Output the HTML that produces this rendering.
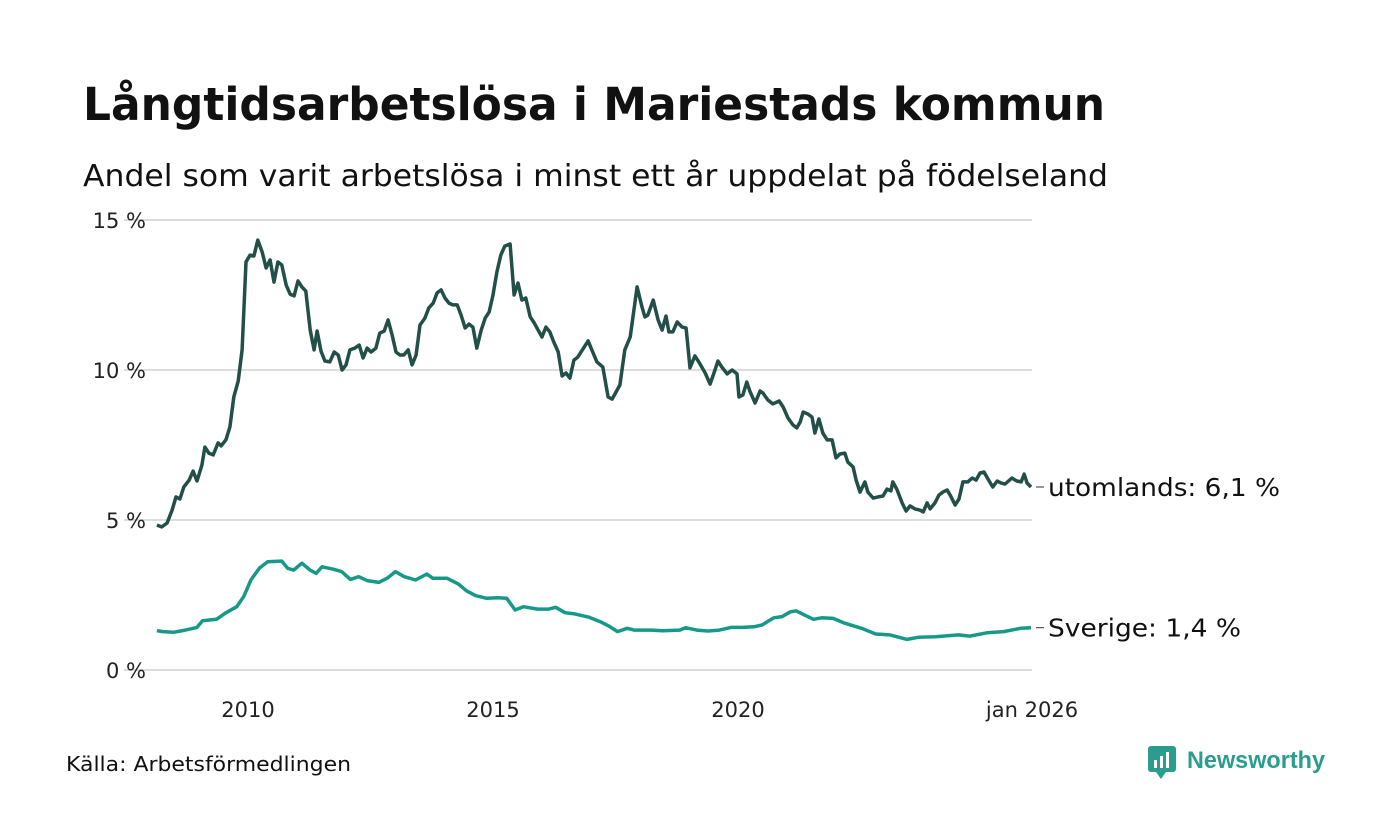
<!DOCTYPE html>
<html><head><meta charset="utf-8"><style>
body{margin:0;background:#fff;font-family:"Liberation Sans",sans-serif;}
#wrap{position:relative;width:1400px;height:840px;overflow:hidden;background:#fff}
</style></head><body>
<div id="wrap">
<svg id="chart" width="1400" height="840" xmlns="http://www.w3.org/2000/svg">
<text x="83" y="120" font-size="45" font-weight="bold" fill="#111" font-family="DejaVu Sans, sans-serif" textLength="1022" lengthAdjust="spacingAndGlyphs">Långtidsarbetslösa i Mariestads kommun</text>
<text x="83" y="186" font-size="30" fill="#111" font-family="DejaVu Sans, sans-serif" textLength="1025" lengthAdjust="spacingAndGlyphs">Andel som varit arbetslösa i minst ett år uppdelat på födelseland</text>
<g id="grid"></g><g id="yticks"></g><g id="xticks"></g><g id="lines"></g><g id="labels"></g>
<text x="66" y="771" font-size="20" fill="#111" font-family="DejaVu Sans, sans-serif" textLength="285" lengthAdjust="spacingAndGlyphs">Källa: Arbetsförmedlingen</text>
<g>
<rect x="1148" y="746" width="28" height="26" rx="3" fill="#2a9d8f"/>
<polygon points="1156,772 1166,772 1161,779" fill="#2a9d8f"/>
<rect x="1154" y="760" width="3" height="8" fill="#fff"/><rect x="1160" y="756" width="3" height="12" fill="#fff"/><rect x="1166" y="752" width="3" height="16" fill="#fff"/>
<text x="1187" y="768" font-size="24" font-weight="bold" fill="#2a9d8f" textLength="138" lengthAdjust="spacingAndGlyphs">Newsworthy</text>
</g>
</svg>
</div>
<script>
const yTickValues=[0,5,10,15];
const yTickLabels=["0 %","5 %","10 %","15 %"];
const xTickValues=[2010,2015,2020,2026];
const xTickLabels=["2010","2015","2020","jan 2026"];
const utomYears=[2008.14,2008.24,2008.35,2008.45,2008.53,2008.61,2008.69,2008.80,2008.88,2008.96,2009.06,2009.12,2009.20,2009.29,2009.39,2009.45,2009.55,2009.63,2009.71,2009.80,2009.88,2009.96,2010.04,2010.12,2010.20,2010.29,2010.37,2010.45,2010.53,2010.61,2010.69,2010.78,2010.86,2010.94,2011.02,2011.10,2011.18,2011.27,2011.35,2011.41,2011.49,2011.57,2011.67,2011.76,2011.84,2011.92,2012.00,2012.08,2012.18,2012.27,2012.35,2012.43,2012.51,2012.61,2012.69,2012.78,2012.86,2012.94,2013.02,2013.10,2013.18,2013.27,2013.35,2013.43,2013.51,2013.61,2013.69,2013.78,2013.86,2013.94,2014.02,2014.10,2014.18,2014.27,2014.35,2014.43,2014.51,2014.59,2014.67,2014.76,2014.84,2014.92,2015.00,2015.08,2015.16,2015.24,2015.35,2015.43,2015.51,2015.59,2015.67,2015.76,2015.84,2015.92,2016.00,2016.08,2016.16,2016.24,2016.33,2016.41,2016.49,2016.57,2016.65,2016.73,2016.94,2017.12,2017.24,2017.35,2017.43,2017.59,2017.69,2017.80,2017.94,2018.04,2018.10,2018.16,2018.27,2018.37,2018.45,2018.53,2018.59,2018.67,2018.76,2018.86,2018.94,2019.02,2019.12,2019.20,2019.33,2019.43,2019.53,2019.59,2019.67,2019.78,2019.88,2019.98,2020.02,2020.10,2020.18,2020.24,2020.35,2020.45,2020.51,2020.61,2020.71,2020.84,2020.92,2021.02,2021.12,2021.20,2021.27,2021.33,2021.43,2021.51,2021.57,2021.65,2021.73,2021.82,2021.92,2022.00,2022.08,2022.18,2022.24,2022.35,2022.41,2022.49,2022.59,2022.65,2022.76,2022.86,2022.96,2023.04,2023.12,2023.16,2023.24,2023.35,2023.43,2023.51,2023.61,2023.71,2023.78,2023.86,2023.92,2024.02,2024.10,2024.18,2024.27,2024.35,2024.43,2024.51,2024.59,2024.69,2024.78,2024.86,2024.94,2025.02,2025.10,2025.20,2025.29,2025.37,2025.45,2025.59,2025.69,2025.78,2025.84,2025.90,2025.98];
const utomValues=[4.83,4.77,4.9,5.33,5.77,5.7,6.1,6.33,6.63,6.3,6.83,7.43,7.23,7.17,7.57,7.47,7.67,8.1,9.1,9.63,10.67,13.6,13.83,13.8,14.33,13.93,13.4,13.67,12.93,13.6,13.5,12.83,12.53,12.47,12.97,12.77,12.63,11.33,10.67,11.3,10.63,10.3,10.27,10.6,10.5,10.0,10.17,10.67,10.73,10.83,10.4,10.73,10.6,10.73,11.23,11.3,11.67,11.17,10.6,10.5,10.5,10.67,10.17,10.5,11.5,11.73,12.07,12.23,12.57,12.67,12.4,12.23,12.17,12.17,11.83,11.4,11.53,11.43,10.73,11.33,11.73,11.93,12.5,13.27,13.83,14.13,14.2,12.5,12.9,12.33,12.4,11.77,11.57,11.33,11.1,11.43,11.27,10.93,10.6,9.8,9.9,9.73,10.33,10.43,10.97,10.27,10.1,9.1,9.03,9.5,10.67,11.1,12.77,12.1,11.77,11.83,12.33,11.67,11.33,11.8,11.27,11.27,11.6,11.43,11.4,10.07,10.47,10.27,9.9,9.53,10.0,10.3,10.1,9.87,10.0,9.87,9.1,9.17,9.6,9.3,8.9,9.3,9.23,9.0,8.87,8.97,8.77,8.4,8.17,8.07,8.27,8.6,8.53,8.43,7.9,8.37,7.9,7.67,7.67,7.07,7.2,7.23,6.93,6.77,6.33,5.93,6.27,5.93,5.73,5.77,5.8,6.03,5.97,6.27,6.03,5.57,5.3,5.47,5.37,5.33,5.27,5.57,5.37,5.57,5.83,5.93,6.0,5.77,5.5,5.7,6.27,6.27,6.4,6.33,6.57,6.6,6.37,6.1,6.3,6.23,6.2,6.4,6.3,6.27,6.53,6.23,6.1];
const sverYears=[2008.14,2008.26,2008.49,2008.72,2008.96,2009.07,2009.36,2009.53,2009.77,2009.91,2010.06,2010.23,2010.40,2010.69,2010.81,2010.93,2011.10,2011.27,2011.39,2011.51,2011.74,2011.91,2012.09,2012.26,2012.43,2012.67,2012.84,2013.01,2013.19,2013.42,2013.65,2013.77,2014.06,2014.29,2014.46,2014.64,2014.87,2015.10,2015.28,2015.45,2015.62,2015.91,2016.14,2016.28,2016.47,2016.67,2016.96,2017.19,2017.36,2017.54,2017.74,2017.88,2018.23,2018.46,2018.81,2018.93,2019.16,2019.39,2019.62,2019.86,2020.09,2020.32,2020.49,2020.73,2020.90,2021.07,2021.19,2021.36,2021.54,2021.71,2021.94,2022.18,2022.52,2022.81,2023.10,2023.45,2023.68,2024.03,2024.50,2024.73,2025.08,2025.42,2025.77,2025.98];
const sverValues=[1.31,1.28,1.26,1.33,1.42,1.64,1.69,1.89,2.11,2.44,3.0,3.39,3.61,3.63,3.39,3.33,3.56,3.33,3.22,3.44,3.36,3.28,3.02,3.11,2.98,2.92,3.06,3.28,3.11,3.0,3.2,3.06,3.06,2.87,2.64,2.48,2.39,2.41,2.39,2.0,2.11,2.03,2.03,2.09,1.91,1.87,1.76,1.61,1.47,1.28,1.39,1.33,1.33,1.31,1.33,1.41,1.33,1.30,1.33,1.42,1.42,1.44,1.5,1.74,1.78,1.94,1.97,1.83,1.69,1.74,1.72,1.56,1.39,1.2,1.17,1.02,1.09,1.11,1.17,1.13,1.24,1.28,1.39,1.41];

const NS='http://www.w3.org/2000/svg';
const X0=124,X1=1032;
function xs(y){return 248+(y-2010)*49;}
function ys(v){return 670-v*30;}
function mk(tag,attrs,parent){const e=document.createElementNS(NS,tag);for(const k in attrs)e.setAttribute(k,attrs[k]);document.getElementById(parent).appendChild(e);return e;}
yTickValues.forEach((v,i)=>{
  const g=mk('line',{x1:X0,x2:X1,y1:ys(v),y2:ys(v),stroke:'#dddddd','stroke-width':2},'grid');
  
  
  const t=mk('text',{x:146,y:ys(v)+8,'font-size':21,fill:'#222','text-anchor':'end','font-family':'DejaVu Sans, sans-serif'},'yticks');
  t.textContent=yTickLabels[i];
  
  
});
xTickValues.forEach((v,i)=>{
  const t=mk('text',{x:xs(v),y:717,'font-size':21,fill:'#222','text-anchor':'middle','font-family':'DejaVu Sans, sans-serif'},'xticks');
  t.textContent=xTickLabels[i];
  
  
});
function drawLine(years,vals,color,name,label,len){
  const d=years.map((y,i)=>(i?'L':'M')+xs(y).toFixed(1)+','+ys(vals[i]).toFixed(1)).join('');
  const p=mk('path',{d:d,fill:'none',stroke:color,'stroke-width':3.5,'stroke-linejoin':'round'},'lines');
  
  
  const last=vals[vals.length-1],ly=ys(last);
  const l=mk('line',{x1:xs(years[years.length-1])+5,x2:xs(years[years.length-1])+13,y1:ly,y2:ly,stroke:'#333','stroke-width':1},'labels');
  
  
  const t=mk('text',{x:1048,y:ly+9,'font-size':25,fill:'#111','font-family':'DejaVu Sans, sans-serif',textLength:len,lengthAdjust:'spacingAndGlyphs'},'labels');
  t.textContent=label+': '+last.toFixed(1).replace('.',',')+' %';
  
  
}
drawLine(sverYears,sverValues,'#17998a','sverige-line','Sverige',193);
drawLine(utomYears,utomValues,'#224f47','utomlands-line','utomlands',232);
</script>
</body></html>
